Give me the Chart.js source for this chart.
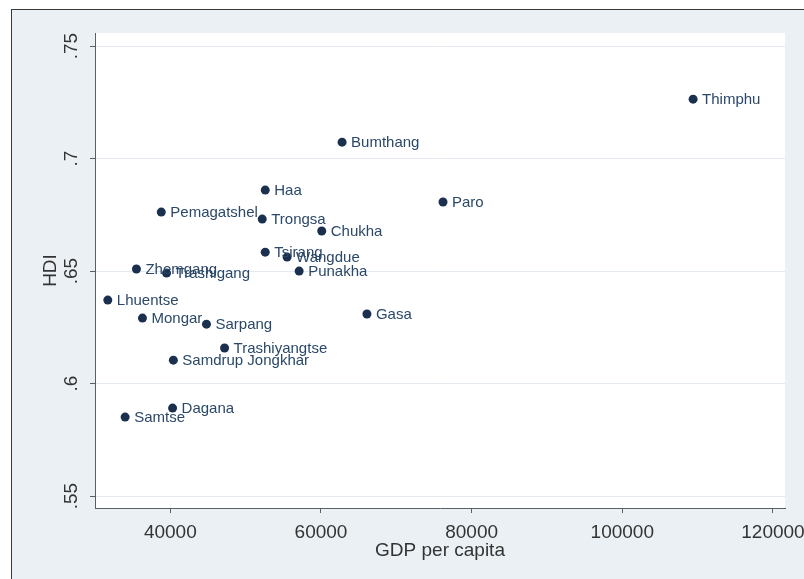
<!DOCTYPE html>
<html>
<head>
<meta charset="utf-8">
<title>HDI vs GDP per capita</title>
<script src="https://cdn.jsdelivr.net/npm/chart.js@4/dist/chart.umd.min.js"></script>
<style>
    html, body { margin: 0; padding: 0; background: #ffffff; overflow: hidden; }
    #wrap { width: 804px; height: 579px; position: relative; }
</style>
</head>
<body>
<div id="wrap"><canvas id="hdiChart"></canvas></div>
<script>
// districts of Bhutan, GDP per capita vs HDI
const districts = ['Thimphu', 'Bumthang', 'Haa', 'Pemagatshel', 'Trongsa', 'Chukha', 'Paro',
    'Tsirang', 'Wangdue', 'Punakha', 'Zhemgang', 'Trashigang', 'Lhuentse', 'Mongar', 'Sarpang',
    'Trashiyangtse', 'Samdrup Jongkhar', 'Gasa', 'Dagana', 'Samtse'];
const gdpPerCapita = [109400, 62800, 52600, 38800, 52200, 60100, 76200,
    52600, 55500, 57100, 35500, 39500, 31700, 36300, 44800,
    47200, 40400, 66100, 40300, 34000];
const hdi = [0.7264, 0.7073, 0.6860, 0.6762, 0.6731, 0.6678, 0.6807,
    0.6584, 0.6562, 0.6500, 0.6509, 0.6491, 0.6371, 0.6291, 0.6264,
    0.6158, 0.6104, 0.6309, 0.5891, 0.5851];

const xTicks = [40000, 60000, 80000, 100000, 120000];
const yTicks = [0.55, 0.6, 0.65, 0.7, 0.75];
const yTickLabels = ['.55', '.6', '.65', '.7', '.75'];

const markerColor = '#1b2f4f';
const labelColor = '#2b4868';
const axisColor = '#5a5f66';
const fontFamily = '"Liberation Sans", Arial, sans-serif';

// frame, panel background and white plot region
const backdrop = {
    id: 'backdrop',
    beforeDraw(chart) {
        const ctx = chart.ctx;
        const area = chart.chartArea;
        ctx.save();
        ctx.fillStyle = '#ffffff';
        ctx.fillRect(0, 0, chart.width, chart.height);
        ctx.fillStyle = '#eaf0f4';
        ctx.fillRect(11, 9, chart.width - 11, chart.height - 9);
        ctx.strokeStyle = '#3a3a3a';
        ctx.lineWidth = 1;
        ctx.strokeRect(11.5, 9.5, chart.width, chart.height);
        ctx.fillStyle = '#ffffff';
        ctx.fillRect(area.left, area.top, area.right - area.left, area.bottom - area.top);
        ctx.restore();
    }
};

// rotated y tick labels and the district names
const labels = {
    id: 'labels',
    afterDatasetsDraw(chart) {
        const ctx = chart.ctx;
        const yScale = chart.scales.y;
        ctx.save();
        ctx.font = '19px ' + fontFamily;
        ctx.fillStyle = '#333333';
        ctx.textAlign = 'center';
        ctx.textBaseline = 'middle';
        yTicks.forEach((v, i) => {
            ctx.save();
            ctx.translate(72, yScale.getPixelForValue(v));
            ctx.rotate(-Math.PI / 2);
            ctx.fillText(yTickLabels[i], 0, 0);
            ctx.restore();
        });

        ctx.font = '15px ' + fontFamily;
        ctx.fillStyle = labelColor;
        ctx.textAlign = 'left';
        const meta = chart.getDatasetMeta(0);
        meta.data.forEach((pt, i) => {
            ctx.fillText(districts[i], pt.x + 9, pt.y + 1);
        });
        ctx.restore();
    }
};

const points = gdpPerCapita.map((g, i) => ({ x: g, y: hdi[i] }));

const ctx = document.getElementById('hdiChart').getContext('2d');
new Chart(ctx, {
    type: 'scatter',
    data: {
        datasets: [{
            label: 'HDI',
            data: points,
            backgroundColor: markerColor,
            borderColor: markerColor,
            borderWidth: 0,
            pointRadius: 4.5
        }]
    },
    options: {
        responsive: true,
        maintainAspectRatio: false,
        animation: false,
        layout: { padding: { left: 0, top: 33, right: 19, bottom: 0 } },
        plugins: {
            legend: { display: false },
            tooltip: { enabled: false }
        },
        scales: {
            x: {
                type: 'linear',
                min: 30000,
                max: 121600,
                afterBuildTicks: (scale) => { scale.ticks = xTicks.map(v => ({ value: v })); },
                afterFit: (scale) => {
                    scale.height = 71;
                    scale.paddingLeft = 0;
                    scale.paddingRight = 0;
                },
                grid: {
                    drawOnChartArea: false,
                    tickLength: 5,
                    tickColor: axisColor
                },
                border: { display: true, color: axisColor, width: 1 },
                ticks: {
                    color: '#333333',
                    padding: 8,
                    maxRotation: 0,
                    font: { size: 19, family: fontFamily },
                    callback: (v) => String(v)
                },
                title: {
                    display: true,
                    text: 'GDP per capita',
                    color: '#333333',
                    padding: { top: 0, bottom: 17 },
                    font: { size: 19, family: fontFamily }
                }
            },
            y: {
                type: 'linear',
                min: 0.5447,
                max: 0.7558,
                afterBuildTicks: (scale) => { scale.ticks = yTicks.map(v => ({ value: v })); },
                afterFit: (scale) => { scale.width = 95; },
                grid: {
                    color: '#e4eaef',
                    lineWidth: 1,
                    tickLength: 5,
                    tickColor: axisColor
                },
                border: { display: true, color: axisColor, width: 1 },
                ticks: { display: false },
                title: {
                    display: true,
                    text: 'HDI',
                    color: '#333333',
                    padding: { top: 39, bottom: 0 },
                    font: { size: 19, family: fontFamily }
                }
            }
        }
    },
    plugins: [backdrop, labels]
});
</script>
</body>
</html>
